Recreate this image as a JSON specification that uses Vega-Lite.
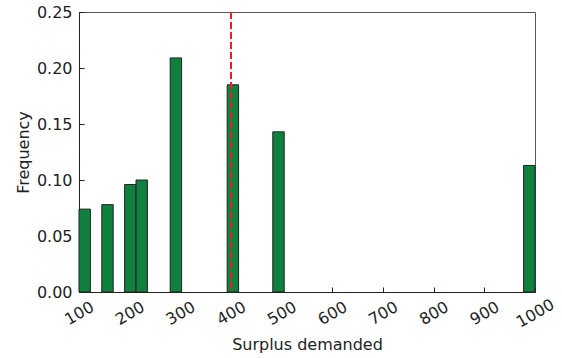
{
  "$schema": "https://vega.github.io/schema/vega-lite/v6.json",
  "autosize": "none",
  "padding": {"left": 79, "top": 12, "right": 27, "bottom": 66},
  "width": 456,
  "height": 280,
  "config": {
    "font": "DejaVu Sans",
    "view": {"stroke": "#555", "strokeWidth": 1},
    "axis": {
      "grid": false,
      "labelFont": "DejaVu Sans",
      "titleFont": "DejaVu Sans",
      "labelFontSize": 16,
      "titleFontSize": 16,
      "titleFontWeight": "normal",
      "labelColor": "#222",
      "titleColor": "#222",
      "domainColor": "#222",
      "tickColor": "#222",
      "tickSize": -5,
      "tickWidth": 1
    }
  },
  "layer": [
    {
      "data": {
        "values": [
          {"bin_start": 100, "bin_end": 122.5, "frequency": 0.074},
          {"bin_start": 145, "bin_end": 167.5, "frequency": 0.078},
          {"bin_start": 190, "bin_end": 212.5, "frequency": 0.096},
          {"bin_start": 212.5, "bin_end": 235, "frequency": 0.1},
          {"bin_start": 280, "bin_end": 302.5, "frequency": 0.209},
          {"bin_start": 392.5, "bin_end": 415, "frequency": 0.185},
          {"bin_start": 482.5, "bin_end": 505, "frequency": 0.143},
          {"bin_start": 977.5, "bin_end": 1000, "frequency": 0.113}
        ]
      },
      "mark": {"type": "rect", "fill": "#10803f", "stroke": "#222", "strokeWidth": 1},
      "encoding": {
        "x": {
          "field": "bin_start",
          "type": "quantitative",
          "scale": {"domain": [100, 1000], "nice": false, "zero": false},
          "axis": {
            "title": "Surplus demanded",
            "values": [100, 200, 300, 400, 500, 600, 700, 800, 900, 1000],
            "format": "d",
            "labelAngle": -30,
            "labelAlign": "center",
            "labelBaseline": "middle",
            "labelPadding": 26,
            "labelFlush": false,
            "labelOverlap": false,
            "titlePadding": 6
          }
        },
        "x2": {"field": "bin_end"},
        "y": {
          "field": "frequency",
          "type": "quantitative",
          "scale": {"domain": [0, 0.25], "nice": false},
          "axis": {
            "title": "Frequency",
            "values": [0, 0.05, 0.1, 0.15, 0.2, 0.25],
            "format": ".2f",
            "labelPadding": 12,
            "labelFlush": false,
            "labelOverlap": false,
            "titlePadding": 5
          }
        },
        "y2": {"datum": 0}
      }
    },
    {
      "data": {"values": [{"threshold": 400}]},
      "mark": {"type": "rule", "color": "#ee1c24", "strokeWidth": 2, "strokeDash": [7, 3]},
      "encoding": {
        "x": {"field": "threshold", "type": "quantitative"}
      }
    }
  ]
}
